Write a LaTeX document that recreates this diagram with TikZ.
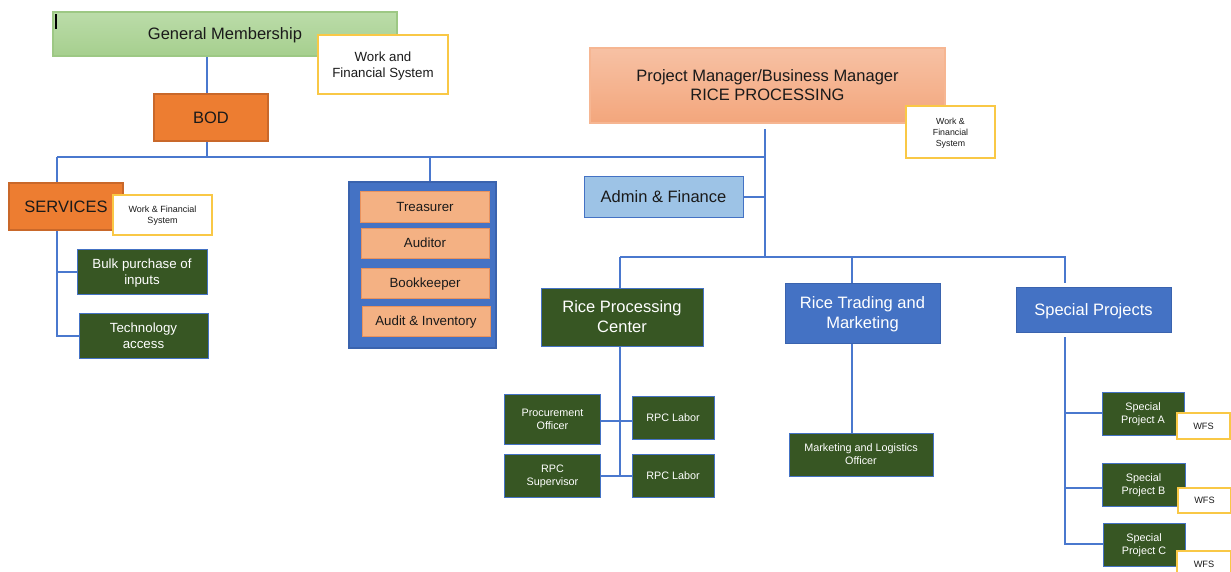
\documentclass[tikz,border=0pt]{standalone}
\usepackage{fontspec}
\setmainfont{Liberation Sans}
\usetikzlibrary{backgrounds}
\definecolor{linkblue}{HTML}{4A78CE}
\definecolor{darkgreen}{HTML}{375623}
\definecolor{orangefill}{HTML}{ED7D31}
\definecolor{orangeedge}{HTML}{C9682A}
\definecolor{salmon}{HTML}{F4B183}
\definecolor{salmonedge}{HTML}{E8925E}
\definecolor{midblue}{HTML}{4472C4}
\definecolor{deepblue}{HTML}{3A63AE}
\definecolor{lightblue}{HTML}{9DC3E6}
\definecolor{wfsedge}{HTML}{F9C846}
\definecolor{textdark}{HTML}{1A1A1A}
\definecolor{gmtop}{HTML}{BBDCA9}
\definecolor{gmbottom}{HTML}{A6CF8E}
\definecolor{gmedge}{HTML}{9DC884}
\definecolor{pmtop}{HTML}{F7C1A4}
\definecolor{pmbottom}{HTML}{F3A67C}
\definecolor{pmedge}{HTML}{F6B692}
\newcommand{\fsz}[2]{\fontsize{#1}{#2}\selectfont}
\tikzset{
  x=1pt, y=-1pt,
  box/.style={rectangle, inner sep=0pt, align=center, line width=1.3pt, text depth=0pt},
  link/.style={draw=linkblue, line width=2pt},
  headbox/.style={box, text=textdark, font=\fsz{16.5}{19}},
  orangebox/.style={box, fill=orangefill, draw=orangeedge, text=textdark, font=\fsz{16.5}{19}},
  greenbox/.style={box, fill=darkgreen, draw=midblue, line width=1pt, text=white},
  bluebox/.style={box, fill=midblue, draw=deepblue, line width=1pt, text=white, font=\fsz{16.5}{20}},
  salmonbox/.style={box, fill=salmon, draw=salmonedge, line width=1pt, text=textdark, font=\fsz{13.3}{15}},
  wfsbox/.style={box, fill=white, draw=wfsedge, line width=1.5pt, text=textdark},
}
\begin{document}
\begin{tikzpicture}
\useasboundingbox (0,0) rectangle (1231,571);
\clip (0,0) rectangle (1231,571);

% ---------- top of the structure ----------
\node[headbox, minimum width=344pt, minimum height=44pt,
      top color=gmtop, bottom color=gmbottom, draw=gmedge] (gm) at (225,34) {General Membership};
\draw[black, line width=1.4pt] (56,14) -- (56,29);
\node[wfsbox, minimum width=130pt, minimum height=59pt, font=\fsz{13.3}{16}] (gmw) at (383,64.5) {Work and\\Financial System};
\node[orangebox, minimum width=114pt, minimum height=47pt] (bod) at (211,117.5) {BOD};

\node[headbox, minimum width=355pt, minimum height=75pt,
      top color=pmtop, bottom color=pmbottom, draw=pmedge] (pm) at (767.5,85.5)
      {Project Manager/Business Manager\\RICE PROCESSING};
\node[wfsbox, minimum width=89pt, minimum height=52pt, font=\fsz{8.8}{11}] (pmw) at (950.5,132) {Work \&\\Financial\\System};

% ---------- services branch ----------
\node[orangebox, minimum width=114pt, minimum height=47pt] (srv) at (66,206.5) {SERVICES};
\node[wfsbox, minimum width=99pt, minimum height=40pt, font=\fsz{9}{11}] (srvw) at (162.5,215) {Work \& Financial\\System};
\node[greenbox, minimum width=130pt, minimum height=45pt, font=\fsz{13.3}{16}] (bulk) at (142,271.5) {Bulk purchase of\\inputs};
\node[greenbox, minimum width=129pt, minimum height=45pt, font=\fsz{13.3}{16}] (tech) at (143.5,335.5) {Technology\\access};

% ---------- officers group ----------
\node[box, fill=midblue, draw=deepblue, line width=1.5pt, minimum width=147pt, minimum height=166pt] (grp) at (422.5,265) {};
\node[salmonbox, minimum width=129pt, minimum height=31pt] (tre) at (425,206.5) {Treasurer};
\node[salmonbox, minimum width=128pt, minimum height=30pt] (aud) at (425,243) {Auditor};
\node[salmonbox, minimum width=128pt, minimum height=30pt] (bkp) at (425,283) {Bookkeeper};
\node[salmonbox, minimum width=128pt, minimum height=30pt] (ainv) at (426,321) {Audit \& Inventory};

% ---------- rice processing branch ----------
\node[box, fill=lightblue, draw=midblue, line width=1pt, text=textdark, font=\fsz{16.5}{19},
      minimum width=159pt, minimum height=41pt] (adm) at (663.5,196.5) {Admin \& Finance};
\node[greenbox, font=\fsz{16.5}{20}, minimum width=162pt, minimum height=58pt] (rpc) at (622,317) {Rice Processing\\Center};
\node[bluebox, minimum width=155pt, minimum height=60pt] (rtm) at (862.5,313) {Rice Trading and\\Marketing};
\node[bluebox, minimum width=155pt, minimum height=45pt] (spj) at (1093.5,309.5) {Special Projects};

\node[greenbox, font=\fsz{10.8}{13}, minimum width=96pt, minimum height=50pt] (po) at (552.5,419) {Procurement\\Officer};
\node[greenbox, font=\fsz{10.8}{13}, minimum width=82pt, minimum height=43pt] (lab1) at (673,417.5) {RPC Labor};
\node[greenbox, font=\fsz{10.8}{13}, minimum width=96pt, minimum height=43pt] (sup) at (552.5,475.5) {RPC\\Supervisor};
\node[greenbox, font=\fsz{10.8}{13}, minimum width=82pt, minimum height=43pt] (lab2) at (673,475.5) {RPC Labor};
\node[greenbox, font=\fsz{10.8}{13}, minimum width=144pt, minimum height=43pt] (mlo) at (861,454.5) {Marketing and Logistics\\Officer};

\node[greenbox, font=\fsz{10.8}{13}, minimum width=82pt, minimum height=43pt] (spa) at (1143,413.5) {Special\\Project A};
\node[greenbox, font=\fsz{10.8}{13}, minimum width=83pt, minimum height=43pt] (spb) at (1143.5,484.5) {Special\\Project B};
\node[greenbox, font=\fsz{10.8}{13}, minimum width=82pt, minimum height=43pt] (spc) at (1144,544.5) {Special\\Project C};
\node[wfsbox, font=\fsz{9.2}{11}, minimum width=53pt, minimum height=26pt] (wa) at (1203.5,426) {WFS};
\node[wfsbox, font=\fsz{9.2}{11}, minimum width=53pt, minimum height=25pt] (wb) at (1204.5,500.5) {WFS};
\node[wfsbox, font=\fsz{9.2}{11}, minimum width=54pt, minimum height=26pt] (wc) at (1204,564) {WFS};

% ---------- junction points of the connector lines ----------
\coordinate (jl) at (57,157);
\coordinate (jb) at (207,157);
\coordinate (jm) at (430,157);
\coordinate (jr) at (765,157);
\coordinate (pmtap) at (765,129);
\coordinate (jlow) at (765,257);
\coordinate (ja) at (620,257);
\coordinate (jt) at (852,257);
\coordinate (js) at (1065,257);
\coordinate (jsend) at (1065,283);
\coordinate (jsp) at (1065,337);
\coordinate (q1) at (620,421);
\coordinate (q2) at (620,476);
\coordinate (sa) at (1065,413);
\coordinate (sb) at (1065,488);
\coordinate (sc) at (1065,544);

\begin{scope}[on background layer]
  % upper bus
  \draw[link] (gm.south -| jb) -- (bod.north -| jb);
  \draw[link] (bod.south -| jb) -- (jb);
  \draw[link] (jl) -- (jr);
  \draw[link] (jm) -- (grp.north -| jm);
  % services column
  \draw[link] (jl) -- (jl |- tech.west) -- (tech.west);
  \draw[link] (jl |- bulk.west) -- (bulk.west);
  % project manager spine and lower bus
  \draw[link] (pmtap) -- (jlow);
  \draw[link] (adm.east) -- (adm.east -| jr);
  \draw[link] (ja) -- (js) -- (jsend);
  \draw[link] (ja) -- (rpc.north -| ja);
  \draw[link] (jt) -- (rtm.north -| jt);
  % rice processing staff
  \draw[link] (rpc.south -| ja) -- (q2);
  \draw[link] (q1 -| po.east) -- (q1 -| lab1.west);
  \draw[link] (q2 -| sup.east) -- (q2 -| lab2.west);
  % trading and marketing
  \draw[link] (rtm.south -| jt) -- (mlo.north -| jt);
  % special projects
  \draw[link] (jsp) -- (sc) -- (sc -| spc.west);
  \draw[link] (sa) -- (sa -| spa.west);
  \draw[link] (sb) -- (sb -| spb.west);
\end{scope}
\end{tikzpicture}
\end{document}
